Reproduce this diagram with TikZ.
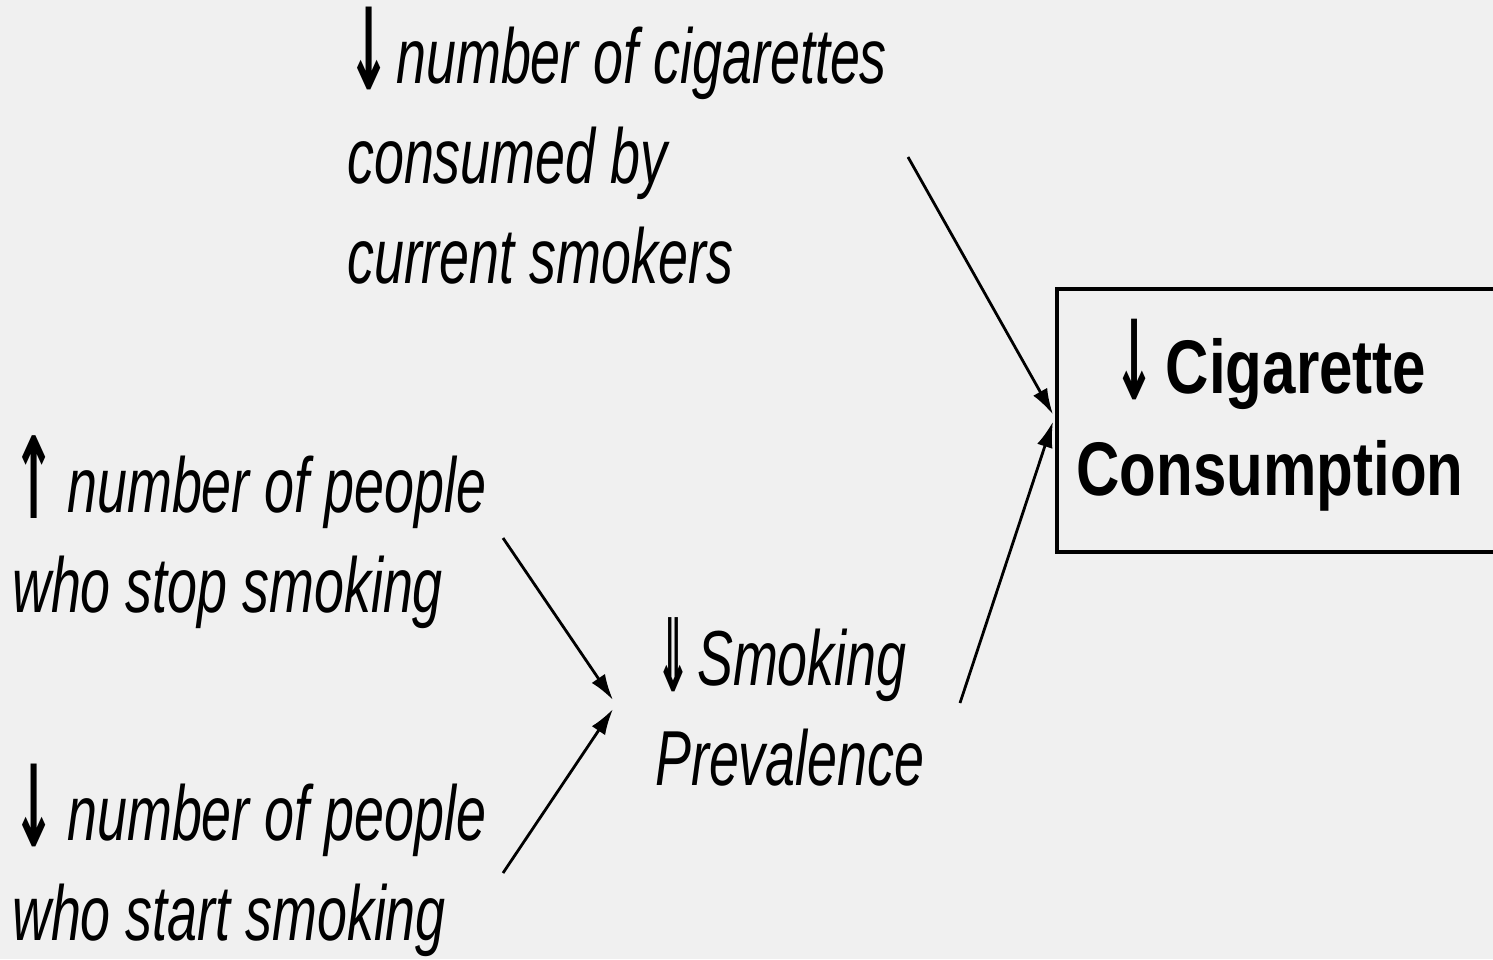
\documentclass[tikz,border=0pt]{standalone}
\usepackage{fontspec}
\usepackage{graphicx}
\usetikzlibrary{arrows.meta}
\newfontfamily\nitfam[FakeStretch=0.69]{Liberation Sans}
\newfontfamily\nbffam[FakeStretch=0.79]{Liberation Sans}
\newfontfamily\arrfam{DejaVu Sans}
\definecolor{bgc}{RGB}{240,240,240}
\newcommand{\dnarr}{{\arrfam\upshape\bfseries\raisebox{-6pt}{\scalebox{0.66}[1.45]{↓}}}}
\newcommand{\uparr}{{\arrfam\upshape\bfseries\raisebox{-6pt}{\scalebox{0.66}[1.45]{↑}}}}
\newcommand{\ddnarr}{{\arrfam\upshape\bfseries\raisebox{-6pt}{\scalebox{0.55}[1.3]{⇓}}}}
\tikzset{
  lbl/.style={inner sep=0pt, align=left, anchor=base west,
    font=\nitfam\itshape\fontsize{78}{100}\selectfont},
  boldlbl/.style={inner sep=0pt, align=center, anchor=base,
    font=\nbffam\bfseries\fontsize{76}{102}\selectfont},
  conn/.style={draw=black, line width=2.8pt,
    -{Latex[length=26pt,width=16pt]}},
  boxstyle/.style={draw=black, line width=4pt, inner sep=0pt}
}
\begin{document}
\begin{tikzpicture}[x=1pt,y=-1pt]
\clip (0,0) rectangle (1493,959);
\fill[bgc] (0,0) rectangle (1493,959);
% box
\node[boxstyle, anchor=north west, minimum width=470pt, minimum height=263pt] (cons) at (1055,287) {};
\node[boldlbl] (constext) at (1270,495) {\dnarr\hspace{10pt}Cigarette\\Consumption};
% texts (anchor = baseline of last line)
\node[lbl] (cig) at (347,283) {\dnarr\hspace{6pt}number of cigarettes\\consumed by\\current smokers};
\node[lbl] (stop) at (12,612) {\uparr\hspace{12pt}number of people\\who stop smoking};
\node[lbl] (start) at (12,940) {\dnarr\hspace{12pt}number of people\\who start smoking};
\node[lbl] (prev) at (655,785) {\ddnarr\hspace{6pt}Smoking\\Prevalence};
% connector endpoints
\coordinate (s1) at (908,157);
\coordinate (s2) at (960,703);
\coordinate (s3) at (503,538);
\coordinate (s4) at (503,873);
\coordinate (t3) at (613,700);
\coordinate (t4) at (613,709);
\draw[conn] (s1) -- ([shift={(-2,-6)}]cons.west);
\draw[conn] (s2) -- ([shift={(-2,1)}]cons.west);
\draw[conn] (s3) -- (t3);
\draw[conn] (s4) -- (t4);
\end{tikzpicture}
\end{document}
